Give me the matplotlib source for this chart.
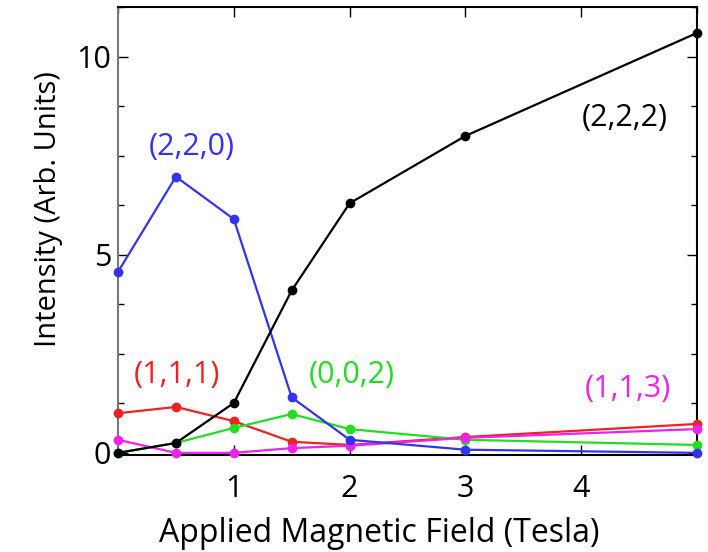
import matplotlib
matplotlib.use("Agg")
import matplotlib.pyplot as plt
from matplotlib.ticker import MultipleLocator, FixedLocator

plt.rcParams['font.family'] = ['Open Sans', 'DejaVu Sans']

field = [0, 0.5, 1, 1.5, 2, 3, 5]
i222 = [0.0, 0.25, 1.26, 4.1, 6.3, 8.0, 10.6]
i220 = [4.57, 6.97, 5.9, 1.4, 0.33, 0.08, 0.0]
i111 = [1.0, 1.16, 0.8, 0.28, 0.2, 0.4, 0.73]
i002 = [0.0, 0.25, 0.63, 0.98, 0.6, 0.33, 0.2]
i113 = [0.33, 0.0, 0.0, 0.12, 0.18, 0.38, 0.6]

series = [
    ("(1,1,1)", i111, "#ee2222", (0.51, 1.97)),
    ("(0,0,2)", i002, "#22dd22", (2.02, 1.97)),
    ("(1,1,3)", i113, "#ee22ee", (4.40, 1.62)),
    ("(2,2,0)", i220, "#3333ee", (0.64, 7.73)),
    ("(2,2,2)", i222, "#000000", (4.38, 8.45)),
]

fig = plt.figure(figsize=(7.08, 5.52), dpi=100)
ax = fig.add_axes([0.1667, 0.176, 0.8178, 0.811])

for name, vals, col, pos in series:
    ax.plot(field, vals, color=col, lw=1.6, marker='o', ms=6, clip_on=False, zorder=3)
    ax.text(pos[0], pos[1], name, color=col, fontsize=22, ha='center', va='center')

ax.set_xlim(0, 5)
ax.set_ylim(-0.05, 11.25)
ax.xaxis.set_major_locator(FixedLocator([1, 2, 3, 4]))
ax.xaxis.set_minor_locator(FixedLocator([0, 5]))
ax.yaxis.set_major_locator(FixedLocator([0, 5, 10]))
ax.yaxis.set_minor_locator(MultipleLocator(1.25))
ax.tick_params(which='both', direction='in', top=True, right=True, labelsize=22, width=1)
ax.tick_params(which='major', length=7)
ax.tick_params(which='minor', length=4)
ax.tick_params(axis='x', pad=14)
ax.tick_params(axis='y', pad=5)
ax.set_xlabel("Applied Magnetic Field (Tesla)", fontsize=23)
ax.set_ylabel("Intensity (Arb. Units)", fontsize=21)
ax.xaxis.set_label_coords(0.452, -0.138)
ax.yaxis.set_label_coords(-0.095, 0.55)
for s in ax.spines.values():
    s.set_linewidth(1.5)
ax.spines['left'].set_color('#777777')

fig.savefig("out.png", dpi=100)
